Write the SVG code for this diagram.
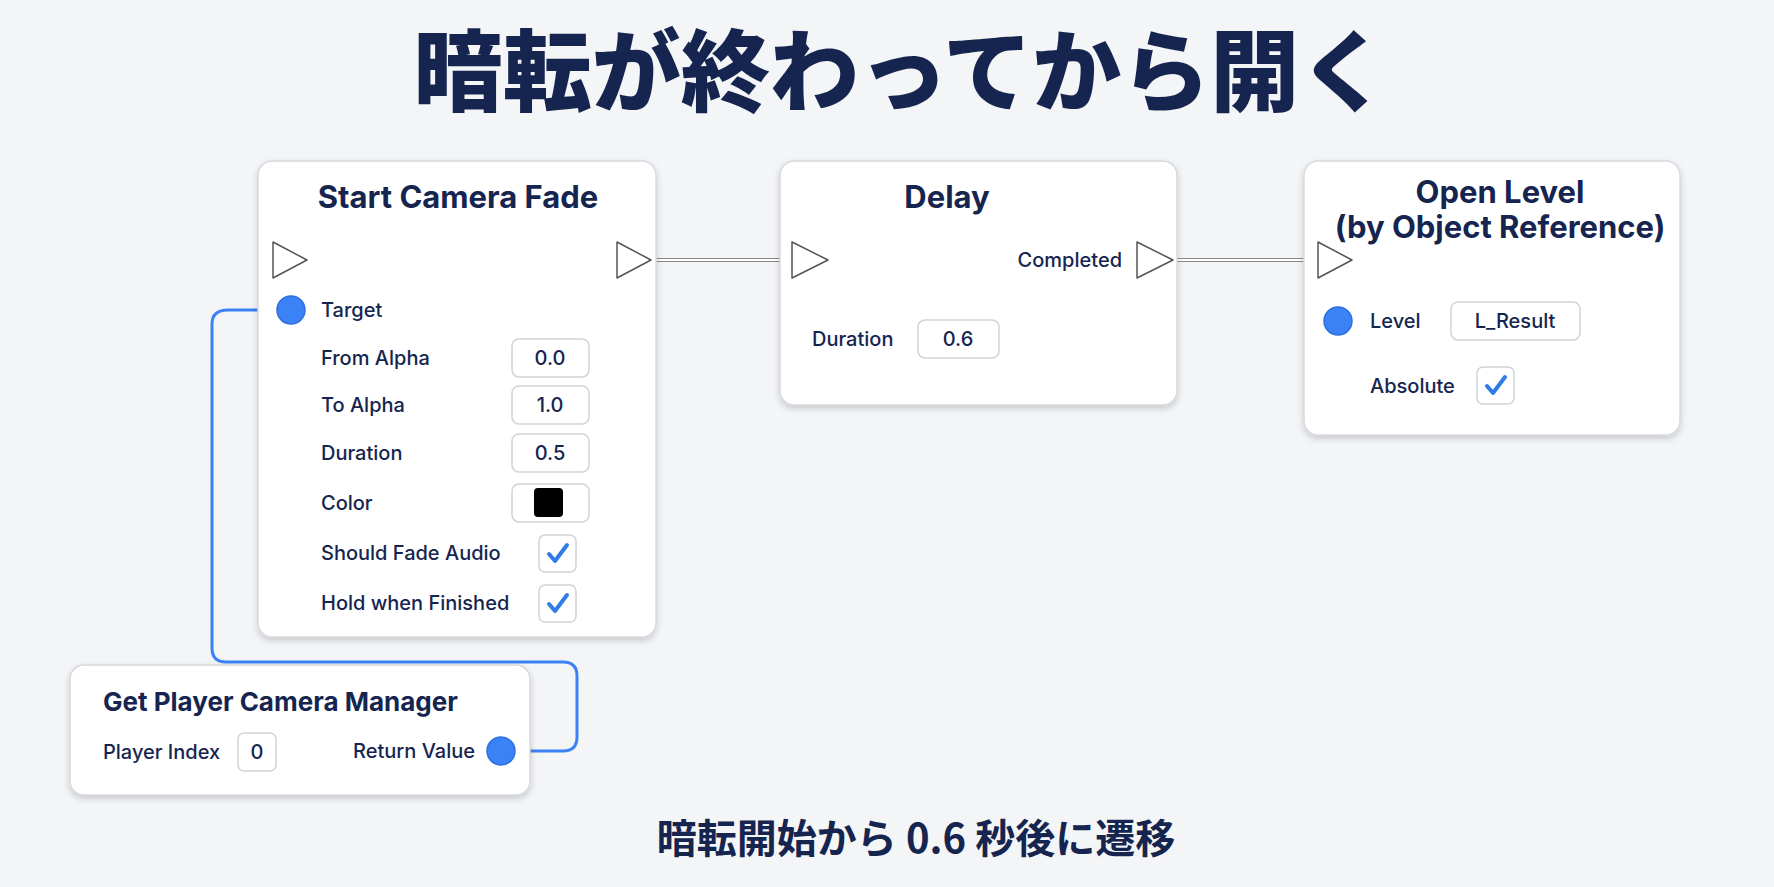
<svg xmlns="http://www.w3.org/2000/svg" width="1774" height="887" viewBox="0 0 1774 887">
<defs>
<filter id="sh" x="-10%" y="-10%" width="120%" height="130%"><feDropShadow dx="0" dy="3" stdDeviation="3" flood-color="#000" flood-opacity="0.18"/></filter>
<style>
text{font-family:Inter,"Noto Sans","Liberation Sans","Noto Sans CJK JP",sans-serif;fill:#15254f}
.node{fill:#fff;stroke:#d6d9de;stroke-width:1.5;filter:url(#sh)}
.t{font-size:31px;font-weight:700;text-anchor:middle}
.l{font-size:20px;font-weight:500}
.box{fill:#fff;stroke:#cfd3d9;stroke-width:1.5}
.v{font-size:20px;font-weight:500;text-anchor:middle}
.exec{fill:#fff;stroke:#555;stroke-width:1.5;stroke-linejoin:round}
.pin{fill:#3b82f6;stroke:#2f6fe0;stroke-width:1.5}
.chk{fill:none;stroke:#2f7be8;stroke-width:4;stroke-linecap:round;stroke-linejoin:round}
.ew{stroke:#8a8a8a;stroke-width:4;fill:none}
.ewi{stroke:#fff;stroke-width:2;fill:none}
</style>
</defs>
<rect width="1774" height="887" fill="#f4f5f7"/>
<text x="901" y="104" font-size="89" font-weight="900" text-anchor="middle" style="font-family:'Noto Sans CJK JP',sans-serif">暗転が終わってから開く</text>
<g id="connectors">
<path class="ew" d="M651 260 H792"/><path class="ewi" d="M651 260 H792"/>
<path class="ew" d="M1173 260 H1318"/><path class="ewi" d="M1173 260 H1318"/>
<path d="M501 751 H563 Q577 751 577 737 V676 Q577 662 563 662 H226 Q212 662 212 648 V324 Q212 310 228 310 H291" stroke="#3b82f6" stroke-width="3" fill="none"/>
</g>
<g id="startCameraFade">
<rect class="node" x="258" y="161" width="398" height="476" rx="14"/>
<text class="t" x="458" y="208" font-size="33">Start Camera Fade</text>
<polygon class="exec" points="273,242 307,260 273,278"/>
<polygon class="exec" points="617,242 651,260 617,278"/>
<circle class="pin" cx="291" cy="310" r="14"/>
<text class="l" x="321" y="317">Target</text>
<text class="l" x="321" y="365">From Alpha</text>
<rect class="box" x="512" y="339" width="77" height="38" rx="7"/><text class="v" x="550" y="365">0.0</text>
<text class="l" x="321" y="412">To Alpha</text>
<rect class="box" x="512" y="386" width="77" height="38" rx="7"/><text class="v" x="550" y="412">1.0</text>
<text class="l" x="321" y="460">Duration</text>
<rect class="box" x="512" y="434" width="77" height="38" rx="7"/><text class="v" x="550" y="460">0.5</text>
<text class="l" x="321" y="510">Color</text>
<rect class="box" x="512" y="484" width="77" height="38" rx="7"/><rect x="534" y="488" width="29" height="29" rx="4" fill="#000"/>
<text class="l" x="321" y="560">Should Fade Audio</text>
<rect class="box" x="539" y="535" width="37" height="37" rx="6"/><path class="chk" d="M549 554 L555 561 L567 545"/>
<text class="l" x="321" y="610">Hold when Finished</text>
<rect class="box" x="539" y="585" width="37" height="37" rx="6"/><path class="chk" d="M549 604 L555 611 L567 595"/>
</g>
<g id="getPlayerCameraManager">
<rect class="node" x="70" y="665" width="460" height="130" rx="14"/>
<text x="103" y="711" font-size="26" font-weight="700">Get Player Camera Manager</text>
<text class="l" x="103" y="759">Player Index</text>
<rect class="box" x="238" y="733" width="38" height="38" rx="6"/><text class="v" x="257" y="759">0</text>
<text class="l" x="475" y="758" text-anchor="end">Return Value</text>
<circle class="pin" cx="501" cy="751" r="14"/>
</g>
<g id="delay">
<rect class="node" x="780" y="161" width="397" height="244" rx="14"/>
<text class="t" x="947" y="208">Delay</text>
<polygon class="exec" points="792,242 828,260 792,278"/>
<text class="l" x="1122" y="267" text-anchor="end">Completed</text>
<polygon class="exec" points="1137,242 1173,260 1137,278"/>
<text class="l" x="812" y="346">Duration</text>
<rect class="box" x="918" y="320" width="81" height="38" rx="7"/><text class="v" x="958" y="346">0.6</text>
</g>
<g id="openLevel">
<rect class="node" x="1304" y="161" width="376" height="274" rx="14"/>
<text class="t" x="1500" y="203" font-size="28">Open Level</text>
<text class="t" x="1500" y="238" font-size="22">(by Object Reference)</text>
<polygon class="exec" points="1318,242 1352,260 1318,278"/>
<circle class="pin" cx="1338" cy="321" r="14"/>
<text class="l" x="1370" y="328">Level</text>
<rect class="box" x="1451" y="302" width="129" height="38" rx="7"/><text class="v" x="1515" y="328">L_Result</text>
<text class="l" x="1370" y="393">Absolute</text>
<rect class="box" x="1477" y="367" width="37" height="37" rx="6"/><path class="chk" d="M1487 386 L1493 393 L1505 377"/>
</g>
<text x="916" y="853" font-size="40" font-weight="700" text-anchor="middle" style="font-family:'Noto Sans CJK JP',sans-serif">暗転開始から 0.6 秒後に遷移</text>
</svg>
